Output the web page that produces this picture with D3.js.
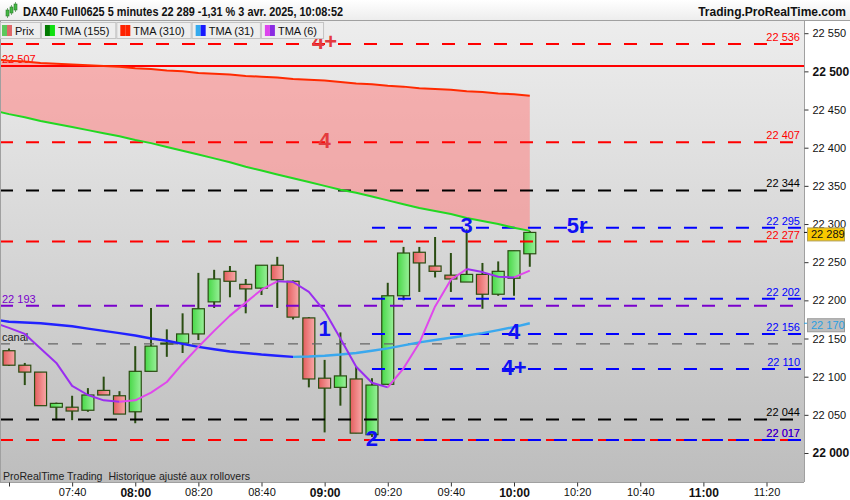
<!DOCTYPE html>
<html>
<head>
<meta charset="utf-8">
<script src="https://cdn.jsdelivr.net/npm/d3@7"></script>
<style>
  body { margin: 0; background: #fff; }
  svg { display: block; font-family: "Liberation Sans", Arial, sans-serif; }
</style>
</head>
<body>
<script>
// ---- data ----
const candleTimes = ["07:20","07:25","07:30","07:35","07:40","07:45","07:50","07:55","08:00","08:05","08:10","08:15",
  "08:20","08:25","08:30","08:35","08:40","08:45","08:50","08:55","09:00","09:05","09:10","09:15",
  "09:20","09:25","09:30","09:35","09:40","09:45","09:50","09:55","10:00","10:05"];
const opens  = [22134,22115,22106,22060,22060,22056,22082,22075,22054,22107,22143,22144,22156,22198,22238,22221,22216,22246,22225,22177,22098,22086,22097,22024,22090,22206,22263,22245,22233,22224,22234,22208,22229,22261];
const highs  = [22137,22118,22106,22066,22075,22085,22100,22081,22140,22190,22162,22183,22236,22240,22245,22228,22246,22257,22226,22178,22122,22158,22113,22098,22223,22270,22270,22283,22262,22293,22249,22251,22265,22291];
const lows   = [22114,22089,22062,22043,22043,22054,22076,22051,22039,22107,22126,22131,22148,22190,22204,22183,22207,22190,22175,22086,22027,22062,22026,22021,22089,22200,22211,22230,22211,22224,22189,22206,22206,22244];
const closes = [22115,22106,22062,22065,22055,22076,22076,22051,22107,22140,22144,22156,22189,22228,22225,22215,22246,22227,22178,22097,22085,22101,22026,22089,22206,22262,22249,22238,22228,22234,22208,22238,22265,22289];

// moving averages start one bar earlier (07:15, off the left edge)
const maTimes = ["07:15"].concat(candleTimes);
const tma155 = [22449,22444,22440,22435,22431,22427,22423,22419,22415,22410,22406,22401,22396,22391,22386,22381,22375,22370,22365,22360,22355,22350,22345,22341,22336,22331,22326,22321,22317,22313,22308,22304,22300,22295,22291];
const tma310 = [22516,22514,22513,22511,22510,22509,22508,22507,22506,22504,22503,22501,22500,22498,22497,22496,22494,22493,22492,22490,22489,22488,22486,22484,22483,22481,22480,22478,22477,22476,22474,22473,22471,22470,22468];
const tma31  = [22175,22172,22171,22170,22168,22166,22163,22160,22157,22154,22150,22147,22143,22139,22136,22133,22131,22129,22127.5,22126,22126.5,22127.5,22129,22131,22134,22137,22141,22145,22148,22151,22154,22157,22161,22165,22170];
const tma6   = [22171,22164,22156,22137,22118,22088,22076,22069,22067,22069,22079,22093,22117,22139,22160,22180,22197,22214,22225,22224,22211,22186,22150,22113,22092,22086,22111,22144,22192,22227,22241,22237,22231,22230,22239];

// horizontal levels
const levelPrices = [22536,22507,22407,22344,22295,22277,22202,22193,22156,22143,22110,22044,22017,22017];
const levelKinds  = ["red","solid","red","black","blue","red","blue","purple","blue","canal","blue","black","red","blue"];
const blueLevelStart = "09:15";

// wave counts
const waveNames  = ["4+","4","1","2","3","4","4+","5r"];
const waveTimes  = ["09:00","09:00","09:00","09:15","09:45","10:00","10:00","10:20"];
const wavePrices = [22536,22407,22160,22017,22295,22156,22110,22295];
const waveKinds  = ["red","red","blue","blue","blue","blue","blue","blue"];

const priceTicks = [22000,22050,22100,22150,22200,22250,22300,22350,22400,22450,22500,22550];
const timeTicks = ["07:20","07:40","08:00","08:20","08:40","09:00","09:20","09:40","10:00","10:20","10:40","11:00","11:20"];

const legendNames = ["Prix","TMA (155)","TMA (310)","TMA (31)","TMA (6)"];
const titleText = "DAX40 Full0625 5 minutes 22 289 -1,31 % 3 avr. 2025, 10:08:52";
const noteText = "ProRealTime Trading  Historique ajusté aux rollovers";

// ---- setup ----
const W = 850, H = 500;
const plotR = 804, plotT = 21, plotB = 482;
const parse = d3.timeParse("%H:%M");
const x = d3.scaleTime().domain([parse("07:20"), parse("11:20")]).range([9, 766.5]);
const y = d3.scaleLinear().domain([22000, 22550]).range([453, 33.2]);
const fmt = d3.formatLocale({decimal: ",", thousands: " ", grouping: [3], currency: ["", ""]}).format(",.0f");

const kindColor = {red: "#ff0000", solid: "#ff0000", black: "#000000", blue: "#0000ff", purple: "#7a00cc", canal: "#666666"};

const svg = d3.select("body").append("svg").attr("width", W).attr("height", H);
const defs = svg.append("defs");

function grad(id, x2, y2, stops) {
  const g = defs.append("linearGradient").attr("id", id)
    .attr("x1", 0).attr("y1", 0).attr("x2", x2).attr("y2", y2);
  stops.forEach((c, i) => g.append("stop").attr("offset", i / (stops.length - 1)).attr("stop-color", c));
}
grad("bgGrad", 0, 1, ["#ededed", "#d6d6d6", "#bdbdbd"]);
grad("headGrad", 0, 1, ["#ffffff", "#ececec"]);
grad("upBody", 1, 0, ["#48d848", "#9af09a"]);
grad("downBody", 1, 0, ["#e45e5e", "#f8a8a8"]);
defs.append("clipPath").attr("id", "plotClip")
  .append("rect").attr("x", 0).attr("y", plotT).attr("width", plotR).attr("height", plotB - plotT);

// backgrounds
svg.append("rect").attr("width", W).attr("height", plotT).attr("fill", "url(#headGrad)");
svg.append("rect").attr("x", 0).attr("y", plotT).attr("width", plotR).attr("height", plotB - plotT).attr("fill", "url(#bgGrad)");

const plot = svg.append("g").attr("clip-path", "url(#plotClip)");

// ---- ribbon between TMA 310 and TMA 155 ----
const maData = maTimes.map((t, i) => ({t: parse(t), a: tma310[i], b: tma155[i]}));
plot.append("path")
  .datum(maData)
  .attr("fill", "#ff8080").attr("fill-opacity", 0.55)
  .attr("d", d3.area().x(d => x(d.t)).y0(d => y(d.a)).y1(d => y(d.b)));

// ---- candles ----
const candles = candleTimes.map((t, i) => ({t: parse(t), o: opens[i], h: highs[i], l: lows[i], c: closes[i]}));
const cg = plot.selectAll("g.candle").data(candles).enter().append("g").attr("class", "candle");
cg.append("line")
  .attr("x1", d => x(d.t)).attr("x2", d => x(d.t))
  .attr("y1", d => y(d.h)).attr("y2", d => y(d.l))
  .attr("stroke", "#2a4d12").attr("stroke-width", 2);
cg.append("rect")
  .attr("x", d => x(d.t) - 6).attr("width", 12)
  .attr("y", d => y(Math.max(d.o, d.c)))
  .attr("height", d => Math.max(1, Math.abs(y(d.o) - y(d.c))))
  .attr("fill", d => d.c >= d.o ? "url(#upBody)" : "url(#downBody)")
  .attr("stroke", "#2a4d12").attr("stroke-width", 1.2);

// ---- horizontal levels ----
levelPrices.forEach((p, i) => {
  const k = levelKinds[i];
  const x0 = k === "blue" ? x(parse(blueLevelStart)) : 0;
  const ln = plot.append("line")
    .attr("x1", x0).attr("x2", plotR)
    .attr("y1", y(p)).attr("y2", y(p))
    .attr("stroke", kindColor[k]);
  if (k === "solid") ln.attr("stroke-width", 2);
  else if (k === "canal") ln.attr("stroke-width", 1.4).attr("stroke-dasharray", "10,14");
  else ln.attr("stroke-width", 2).attr("stroke-dasharray", "13,13");

  const left = (k === "solid" || k === "purple" || k === "canal");
  plot.append("text")
    .attr("x", left ? 2 : 800).attr("y", y(p) - 3)
    .attr("text-anchor", left ? "start" : "end")
    .attr("font-size", 11)
    .attr("fill", k === "canal" ? "#222" : kindColor[k])
    .text(k === "canal" ? "canal" : fmt(p));
});

// ---- moving-average lines ----
const line = d3.line().x(d => x(d.t)).y(d => y(d.v));
plot.append("path").datum(maTimes.map((t, i) => ({t: parse(t), v: tma310[i]})))
  .attr("fill", "none").attr("stroke", "#ff2a00").attr("stroke-width", 2).attr("d", line);
plot.append("path").datum(maTimes.map((t, i) => ({t: parse(t), v: tma155[i]})))
  .attr("fill", "none").attr("stroke", "#22d822").attr("stroke-width", 2).attr("d", line);

// two-colour lines: one colour when falling, another when rising
function twoColour(values, downCol, upCol, width) {
  const pts = maTimes.map((t, i) => ({t: parse(t), v: values[i]}));
  let run = [pts[0]], up = null;
  const draw = () => plot.append("path").datum(run).attr("fill", "none")
    .attr("stroke", up ? upCol : downCol).attr("stroke-width", width)
    .attr("stroke-linejoin", "round").attr("d", line);
  for (let i = 1; i < pts.length; i++) {
    const dir = pts[i].v >= pts[i - 1].v;
    if (up !== null && dir !== up) {
      draw();
      run = [pts[i - 1]];
    }
    up = dir;
    run.push(pts[i]);
  }
  draw();
}
twoColour(tma31, "#2222ff", "#3aa8ee", 2.4);
twoColour(tma6, "#9a2ef0", "#e048ec", 2);

// ---- wave labels ----
waveNames.forEach((n, i) => {
  plot.append("text")
    .attr("x", x(parse(waveTimes[i]))).attr("y", y(wavePrices[i]) - 2)
    .attr("text-anchor", "middle").attr("dominant-baseline", "central")
    .attr("font-size", 22).attr("font-weight", "bold")
    .attr("fill", waveKinds[i] === "red" ? "#e43a3e" : "#1010f4")
    .text(n);
});

// bottom-left note
plot.append("text").attr("x", 3).attr("y", 480).attr("font-size", 11).attr("fill", "#222")
  .style("white-space", "pre").attr("textLength", 247).attr("lengthAdjust", "spacingAndGlyphs")
  .text(noteText);

// ---- axes areas ----
svg.append("rect").attr("x", plotR).attr("y", plotT).attr("width", W - plotR).attr("height", H - plotT).attr("fill", "#fff");
svg.append("rect").attr("x", 0).attr("y", plotB).attr("width", plotR).attr("height", H - plotB).attr("fill", "#fff");
svg.append("line").attr("x1", 0).attr("x2", W).attr("y1", plotT - 0.5).attr("y2", plotT - 0.5).attr("stroke", "#a0a0a0");
svg.append("line").attr("x1", plotR + 0.5).attr("x2", plotR + 0.5).attr("y1", plotT).attr("y2", plotB).attr("stroke", "#a0a0a0");
svg.append("line").attr("x1", 0).attr("x2", plotR).attr("y1", plotB + 0.5).attr("y2", plotB + 0.5).attr("stroke", "#a0a0a0");
svg.append("line").attr("x1", 0.5).attr("x2", 0.5).attr("y1", plotT).attr("y2", plotB).attr("stroke", "#a0a0a0");

// y axis (right)
const yAxis = svg.append("g").attr("transform", "translate(" + (plotR + 0.5) + ",0)")
  .call(d3.axisRight(y).tickValues(priceTicks).tickSize(4).tickPadding(4).tickFormat(fmt));
yAxis.select(".domain").remove();
yAxis.selectAll(".tick line").attr("stroke", "#333");
yAxis.selectAll(".tick text")
  .attr("font-family", "Liberation Sans, Arial, sans-serif")
  .attr("fill", "#111")
  .attr("font-size", d => d % 500 === 0 ? 12 : 11)
  .attr("font-weight", d => d % 500 === 0 ? "bold" : "normal");

// x axis (bottom)
const xAxis = svg.append("g").attr("transform", "translate(0," + (plotB + 0.5) + ")")
  .call(d3.axisBottom(x).tickValues(timeTicks.map(parse)).tickSize(4).tickPadding(2)
    .tickFormat(d => x(d) < 20 ? "" : d3.timeFormat("%H:%M")(d)));
xAxis.select(".domain").remove();
xAxis.selectAll(".tick line").attr("stroke", "#333");
xAxis.selectAll(".tick text")
  .attr("font-family", "Liberation Sans, Arial, sans-serif")
  .attr("fill", "#111")
  .attr("font-size", d => d.getMinutes() === 0 ? 12 : 11)
  .attr("font-weight", d => d.getMinutes() === 0 ? "bold" : "normal");

// price badges on the axis
function badge(v, fill, stroke, textCol) {
  const yy = y(v);
  svg.append("line").attr("x1", plotR).attr("x2", plotR + 4).attr("y1", yy).attr("y2", yy).attr("stroke", textCol);
  svg.append("rect").attr("x", 807.5).attr("y", yy - 4.5).attr("width", 37).attr("height", 13)
    .attr("fill", fill).attr("stroke", stroke);
  svg.append("text").attr("x", 811).attr("y", yy + 6).attr("font-size", 11).attr("fill", textCol).text(fmt(v));
}
badge(tma31[tma31.length - 1], "#bdbdbd", "#9a9a9a", "#2a9fe0");
badge(closes[closes.length - 1], "#f8c800", "#b0a060", "#111");

// ---- header ----
const icon = svg.append("g").attr("fill", "#44b844").attr("stroke", "#2a7a2a").attr("stroke-width", 0.6);
[[6, 10, 16], [10, 7, 13], [14, 4, 10]].forEach(c => {
  icon.append("line").attr("x1", c[0] + 1.5).attr("x2", c[0] + 1.5).attr("y1", c[1] - 2).attr("y2", c[2] + 2);
  icon.append("rect").attr("x", c[0]).attr("y", c[1]).attr("width", 3).attr("height", c[2] - c[1]);
});
svg.append("text").attr("x", 23).attr("y", 16).attr("font-size", 12).attr("font-weight", "bold")
  .attr("fill", "#111").attr("textLength", 320).attr("lengthAdjust", "spacingAndGlyphs").text(titleText);
svg.append("text").attr("x", 846).attr("y", 16).attr("text-anchor", "end").attr("font-size", 12)
  .attr("font-weight", "bold").attr("fill", "#111").text("Trading.ProRealTime.com");

// ---- legend ----
const swatches = [["#5cc85c", "#e06868"], ["#007a00", "#10e010"], ["#ff2200", "#ff2200"], ["#33aaee", "#1a1aff"], ["#dd44ee", "#8a2be2"]];
let lx = 0;
legendNames.forEach((n, i) => {
  const g = svg.append("g");
  const box = g.append("rect").attr("x", lx + 0.5).attr("y", plotT + 1.5).attr("height", 16)
    .attr("fill", "#eeeeee").attr("stroke", "#c4c4c4");
  const sx = lx + (i === 0 ? 2 : 4);
  g.append("rect").attr("x", sx).attr("y", plotT + 4).attr("width", 5).attr("height", 11).attr("fill", swatches[i][0]);
  g.append("rect").attr("x", sx + 5).attr("y", plotT + 4).attr("width", 5).attr("height", 11).attr("fill", swatches[i][1]);
  const tx = sx + 13;
  const t = g.append("text").attr("x", tx).attr("y", plotT + 14).attr("font-size", 11).attr("fill", "#111").text(n);
  const w = tx - lx + t.node().getComputedTextLength() + 6;
  box.attr("width", w);
  lx += w + 1;
});
</script>
</body>
</html>
